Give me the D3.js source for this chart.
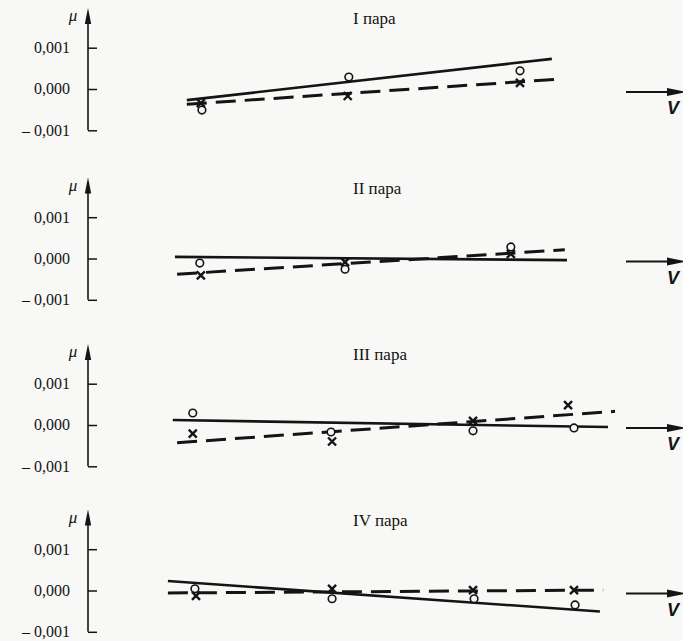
<!DOCTYPE html>
<html>
<head>
<meta charset="utf-8">
<script src="https://cdn.jsdelivr.net/npm/d3@7"></script>
<style>
  html, body { margin: 0; padding: 0; background: #f8f8f6; }
  svg { display: block; }
</style>
</head>
<body>
<svg id="chart" width="683" height="641"></svg>
<script>
// ---- data ----
const panelNames = ["I пара", "II пара", "III пара", "IV пара"];
const yTickValues = [0.001, 0, -0.001];
const yTickLabels = ["0,001", "0,000", "– 0,001"];
const yAxisLabel = "μ";
const xAxisLabel = "V";

// regression lines: [[v0, mu0], [v1, mu1]]
const solidLines = [
  [[1.83, -0.00027], [8.59, 0.00073]],
  [[1.61, 0.00004], [8.87, -0.00004]],
  [[1.57, 0.00012], [9.63, -0.00005]],
  [[1.48, 0.00023], [9.48, -0.00051]]
];
const dashedLines = [
  [[1.83, -0.00037], [8.74, 0.00024]],
  [[1.65, -0.00038], [8.83, 0.00021]],
  [[1.65, -0.00043], [9.76, 0.00033]],
  [[1.48, -0.00006], [9.54, 0.00001]]
];
// circles (o)
const circleV = [[2.11, 4.83, 8.0], [2.07, 4.76, 7.83], [1.94, 4.5, 7.13, 9.0], [1.98, 4.52, 7.15, 9.02]];
const circleMu = [
  [-0.00051, 0.00029, 0.00044],
  [-0.00011, -0.00026, 0.00028],
  [0.00029, -0.00017, -0.00014, -0.00007],
  [0.00004, -0.0002, -0.0002, -0.00035]
];
// crosses (x)
const crossV = [[2.09, 4.81, 8.0], [2.09, 4.76, 7.83], [1.94, 4.52, 7.13, 8.89], [2.0, 4.52, 7.13, 9.0]];
const crossMu = [
  [-0.00034, -0.00017, 0.00015],
  [-0.00041, -0.00009, 0.00011],
  [-0.00021, -0.0004, 0.0001, 0.00048],
  [-0.00013, 0.00004, 0.00001, 0.00001]
];

// ---- layout ----
const ink = "#141414";
const serif = "'Liberation Serif', 'DejaVu Serif', serif";
const panelZero = [89, 258.5, 425, 590.5];
const halfH = 41.3;
const axisX = 88;
const svg = d3.select("#chart");
const x = d3.scaleLinear().domain([0, 10]).range([axisX, 628]);

panelNames.forEach((name, i) => {
  const z = panelZero[i];
  const y = d3.scaleLinear().domain([-0.001, 0.001]).range([z + halfH, z - halfH]);
  const g = svg.append("g");

  // y axis ticks + labels
  const ax = g.append("g").attr("transform", `translate(${axisX},0)`)
    .call(d3.axisLeft(y).tickValues(yTickValues).tickSize(-9).tickSizeOuter(0).tickPadding(18)
      .tickFormat((d, k) => yTickLabels[k]));
  ax.attr("font-family", serif).attr("font-size", 16);
  ax.select(".domain").remove();
  ax.selectAll(".tick line").attr("stroke", ink).attr("stroke-width", 1.5);
  ax.selectAll(".tick text").attr("fill", ink)
    .attr("font-family", serif).attr("font-size", 16).attr("dy", "0.3em");

  // vertical axis line with arrow
  const yTop = z - 81;
  g.append("line").attr("x1", axisX).attr("x2", axisX)
    .attr("y1", y(-0.001)).attr("y2", yTop + 10)
    .attr("stroke", ink).attr("stroke-width", 1.6);
  g.append("path")
    .attr("d", `M${axisX},${yTop} L${axisX - 3.2},${yTop + 16} L${axisX + 3.2},${yTop + 16} Z`)
    .attr("fill", ink);
  g.append("text").attr("x", 73).attr("y", z - 68).attr("text-anchor", "middle")
    .attr("font-family", serif).attr("font-style", "italic")
    .attr("font-size", 17).attr("fill", ink).text(yAxisLabel);

  // title
  g.append("text").attr("x", 353).attr("y", z - 65)
    .attr("font-family", serif).attr("font-size", 17)
    .attr("fill", ink).text(name);

  // V arrow at the right
  const ay = z + 3;
  g.append("line").attr("x1", 626).attr("x2", 672).attr("y1", ay).attr("y2", ay)
    .attr("stroke", ink).attr("stroke-width", 1.8);
  g.append("path").attr("d", `M687,${ay} L667,${ay - 4} L667,${ay + 4} Z`).attr("fill", ink);
  g.append("text").attr("x", 667).attr("y", z + 25)
    .attr("font-family", "'Liberation Sans', sans-serif").attr("font-style", "italic")
    .attr("font-weight", "bold").attr("font-size", 18).attr("fill", ink).text(xAxisLabel);

  const line = d3.line().x(d => x(d[0])).y(d => y(d[1]));
  g.append("path").attr("d", line(solidLines[i])).attr("fill", "none")
    .attr("stroke", ink).attr("stroke-width", 2.6);
  g.append("path").attr("d", line(dashedLines[i])).attr("fill", "none")
    .attr("stroke", ink).attr("stroke-width", 3).attr("stroke-dasharray", "20,9");

  // circles
  g.selectAll("circle.o").data(circleV[i].map((v, k) => [v, circleMu[i][k]])).enter()
    .append("circle").attr("class", "o")
    .attr("cx", d => x(d[0])).attr("cy", d => y(d[1])).attr("r", 3.8)
    .attr("fill", "#f8f8f6").attr("stroke", ink).attr("stroke-width", 1.6);

  // crosses
  const s = 4;
  g.selectAll("path.x").data(crossV[i].map((v, k) => [v, crossMu[i][k]])).enter()
    .append("path").attr("class", "x")
    .attr("d", d => {
      const cx = x(d[0]), cy = y(d[1]);
      return `M${cx - s},${cy - s}L${cx + s},${cy + s}M${cx - s},${cy + s}L${cx + s},${cy - s}`;
    })
    .attr("stroke", ink).attr("stroke-width", 2.4).attr("fill", "none");
});
</script>
</body>
</html>
